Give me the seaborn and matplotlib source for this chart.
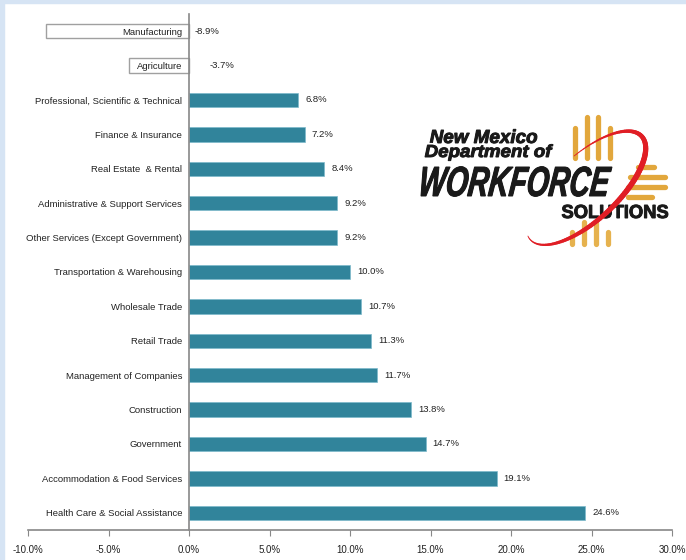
import numpy as np
import matplotlib.pyplot as plt
import seaborn as sns
import pandas as pd
from matplotlib.patches import Rectangle, PathPatch
from matplotlib.collections import LineCollection
from matplotlib.ticker import FixedLocator
from matplotlib.textpath import TextPath
from matplotlib.font_manager import FontProperties
from matplotlib.transforms import Affine2D
import matplotlib.patheffects as pe

# Data: percent change by industry
industries = [
    "Manufacturing", "Agriculture", "Professional, Scientific & Technical",
    "Finance & Insurance", "Real Estate  & Rental", "Administrative & Support Services",
    "Other Services (Except Government)", "Transportation & Warehousing",
    "Wholesale Trade", "Retail Trade", "Management of Companies", "Construction",
    "Government", "Accommodation & Food Services", "Health Care & Social Assistance",
]
pct_change = [-8.9, -3.7, 6.8, 7.2, 8.4, 9.2, 9.2, 10.0, 10.7, 11.3, 11.7, 13.8, 14.7, 19.1, 24.6]
x_ticks = [-10, -5, 0, 5, 10, 15, 20, 25, 30]

teal = "#31849B"
df = pd.DataFrame({"industry": industries, "pct": pct_change})
df["sign"] = ["neg" if v < 0 else "pos" for v in df["pct"]]

sns.set_style("white")
plt.rcParams["font.family"] = ["Liberation Sans", "DejaVu Sans"]

fig = plt.figure(figsize=(6.86, 5.6), dpi=100)
fig.patch.set_facecolor("white")
# light blue frame strips
fig.add_artist(Rectangle((0, 0), 4 / 686, 1, transform=fig.transFigure, color="#D6E4F4", zorder=0))
fig.add_artist(Rectangle((0, 1 - 3 / 560), 1, 3 / 560, transform=fig.transFigure, color="#D6E4F4", zorder=0))

ax = fig.add_axes([28 / 686, 1 - 530 / 560, 644 / 686, 516 / 560])
sns.barplot(data=df, x="pct", y="industry", hue="sign", palette={"pos": teal, "neg": "white"},
            dodge=False, width=0.42, legend=False, ax=ax, orient="h", saturation=1)
for p in ax.patches:
    if p.get_width() < 0:
        p.set_edgecolor("#A0A0A0")
        p.set_linewidth(1.0)
    else:
        p.set_edgecolor("#7DB9CB")
        p.set_linewidth(0.5)
ax.set_axisbelow(False)

ax.set_xlim(-10, 30)
ax.set_ylim(len(industries) - 0.5, -0.5)
ax.set_xticks(x_ticks)
ax.set_xticklabels([f"{t:.1f}%" for t in x_ticks], fontsize=7, color="#222222")
ax.set_xlabel("")
ax.set_ylabel("")

for s in ["top", "right"]:
    ax.spines[s].set_visible(False)
ax.spines["left"].set_position(("data", 0))
ax.spines["left"].set_color("#888888")
ax.spines["bottom"].set_color("#888888")
ax.spines["left"].set_linewidth(1.2)
ax.spines["bottom"].set_linewidth(1.2)

ax.tick_params(axis="y", which="major", length=0, pad=5, labelsize=6.8, labelcolor="#222222")
ax.yaxis.set_minor_locator(FixedLocator([i - 0.5 for i in range(len(industries) + 1)]))
ax.tick_params(axis="y", which="minor", length=3, color="#888888", direction="out")
ax.tick_params(axis="x", length=4, color="#888888", direction="out", pad=7, bottom=True)

# value labels
for i, v in enumerate(pct_change):
    if v >= 0:
        ax.annotate(f"{v:.1f}%", (v, i), xytext=(5, 0), textcoords="offset points",
                    va="center", ha="left", fontsize=6.8, color="#222222")
    else:
        off = 4 if v < -5 else 15
        ax.annotate(f"{v:.1f}%", (0, i), xytext=(off, 0), textcoords="offset points",
                    va="center", ha="left", fontsize=6.8, color="#222222")

# logo overlay in pixel coordinates
lg = fig.add_axes([0, 0, 1, 1], zorder=5)
lg.set_xlim(0, 686)
lg.set_ylim(560, 0)
lg.axis("off")
lg.patch.set_alpha(0)


def logo_text(s, x0, baseline, width, cap_h, italic=True, skew=0, color="#1a1a1a"):
    fp = FontProperties(family="Liberation Sans", weight="bold", style="italic" if italic else "normal")
    tp = TextPath((0, 0), s, size=1, prop=fp)
    tp = Affine2D().skew_deg(skew, 0).transform_path(tp)
    bb = tp.get_extents()
    capref = TextPath((0, 0), "H", size=1, prop=fp).get_extents().height
    sx = width / bb.width
    sy = cap_h / capref
    tr = Affine2D().translate(-bb.x0, 0).scale(sx, -sy).translate(x0, baseline)
    patch = PathPatch(tr.transform_path(tp), facecolor=color, edgecolor="none", transform=lg.transData)
    patch.set_path_effects([pe.Stroke(linewidth=3, foreground="white"),
                            pe.Stroke(linewidth=0.7, foreground=color), pe.Normal()])
    lg.add_patch(patch)


gold = "#E2A73C"
for x, y0, y1 in [(575, 128, 158), (587, 117, 158), (598, 117, 158), (610, 128, 158)]:
    lg.plot([x, x], [y0, y1], color=gold, lw=3.8, solid_capstyle="round")
for y, x0, x1 in [(167, 638, 654), (177, 630, 665), (187, 628, 665), (197, 628, 652)]:
    lg.plot([x0, x1], [y, y], color=gold, lw=3.8, solid_capstyle="round")
for x, y0, y1 in [(572, 232, 244), (584, 222, 244), (596, 222, 244), (608, 232, 244)]:
    lg.plot([x, x], [y0, y1], color="#E6B24E", lw=3.8, solid_capstyle="round")

# red swoosh: tapered elliptical arc
t = np.radians(np.linspace(-80, 188, 120))
ang = np.radians(-43)
u, v = 76 * np.cos(t), 32 * np.sin(t)
ex = 586 + u * np.cos(ang) - v * np.sin(ang)
ey = 188 + u * np.sin(ang) + v * np.cos(ang)
pts = np.column_stack([ex, ey]).reshape(-1, 1, 2)
segs = np.concatenate([pts[:-1], pts[1:]], axis=1)
w = 0.6 + 3.4 * np.sin(np.linspace(0, np.pi, len(segs))) ** 1.2
lg.add_collection(LineCollection(segs, linewidths=w, colors="#E01E25", capstyle="round"))

logo_text("New Mexico", 430, 143, 107, 13)
logo_text("Department of", 425, 157, 128, 12)
logo_text("WORKFORCE", 421, 196, 191, 29, skew=10)
logo_text("SOLUTIONS", 562, 218, 106, 13, italic=False)

fig.savefig("out.png", dpi=100, facecolor=fig.get_facecolor())
